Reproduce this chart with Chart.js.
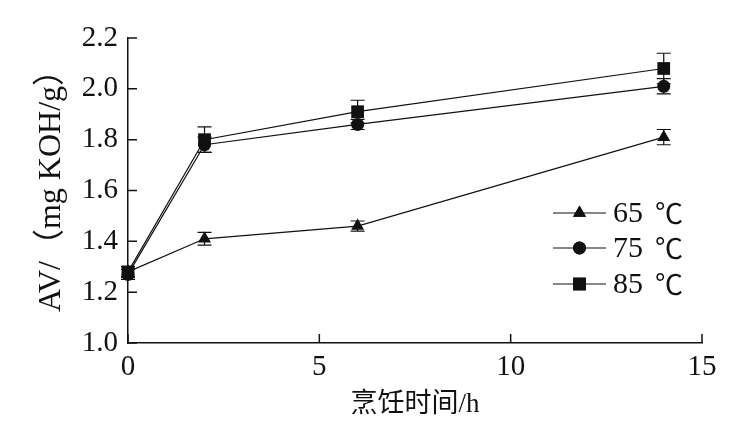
<!DOCTYPE html>
<html>
<head>
<meta charset="utf-8">
<script src="https://cdn.jsdelivr.net/npm/chart.js@4/dist/chart.umd.min.js"></script>
<style>
html,body{margin:0;padding:0;background:#fff;}
#wrap{width:735px;height:437px;}
</style>
</head>
<body>
<div id="wrap"><canvas id="c" width="735" height="437"></canvas></div>
<script>
const hours = [0, 2, 6, 14];
const av65 = [1.28, 1.41, 1.46, 1.81];
const err65 = [0.02, 0.025, 0.02, 0.03];
const av75 = [1.27, 1.78, 1.86, 2.01];
const err75 = [0.02, 0.03, 0.02, 0.03];
const av85 = [1.28, 1.80, 1.91, 2.08];
const err85 = [0.02, 0.05, 0.045, 0.06];
const seriesLabels = ['65 ℃', '75 ℃', '85 ℃'];
const xTicks = [0, 5, 10, 15];
const yTicks = [1.0, 1.2, 1.4, 1.6, 1.8, 2.0, 2.2];
const xTitle = '烹饪时间/h';
const yTitle = 'AV/（mg KOH/g）';

const SERIF = '"Liberation Serif", "DejaVu Serif", "Noto Sans CJK SC", serif';
const CJK = '"Noto Sans CJK SC", "Liberation Serif", serif';
const styles = [
  {pointStyle: 'triangle', pointRadius: 7.5},
  {pointStyle: 'circle', pointRadius: 6.5},
  {pointStyle: 'rect', pointRadius: 9}
];
const vals = [av65, av75, av85];
const errs = [err65, err75, err85];

const datasets = vals.map((v, i) => ({
  label: seriesLabels[i],
  data: hours.map((h, j) => ({x: h, y: v[j]})),
  errors: errs[i],
  borderColor: '#111',
  borderWidth: 1.2,
  backgroundColor: '#111',
  pointBackgroundColor: '#111',
  pointBorderColor: '#111',
  pointBorderWidth: 0,
  pointStyle: styles[i].pointStyle,
  pointRadius: styles[i].pointRadius,
  tension: 0,
  clip: false
}));

const errorBars = {
  id: 'errorBars',
  beforeDatasetsDraw(chart) {
    const ctx = chart.ctx;
    const xs = chart.scales.x, ys = chart.scales.y;
    ctx.save();
    ctx.strokeStyle = '#111';
    ctx.lineWidth = 1.2;
    chart.data.datasets.forEach(ds => {
      ds.data.forEach((p, j) => {
        const e = ds.errors[j];
        const px = xs.getPixelForValue(p.x);
        const top = ys.getPixelForValue(p.y + e);
        const bot = ys.getPixelForValue(p.y - e);
        ctx.beginPath();
        ctx.moveTo(px, top); ctx.lineTo(px, bot);
        ctx.moveTo(px - 7, top); ctx.lineTo(px + 7, top);
        ctx.moveTo(px - 7, bot); ctx.lineTo(px + 7, bot);
        ctx.stroke();
      });
    });
    ctx.restore();
  }
};

const decor = {
  id: 'decor',
  afterDraw(chart) {
    const ctx = chart.ctx;
    const xs = chart.scales.x, ys = chart.scales.y;
    const area = chart.chartArea;
    ctx.save();
    ctx.strokeStyle = '#111';
    ctx.lineWidth = 1.5;
    ctx.beginPath();
    yTicks.forEach(v => {
      const py = ys.getPixelForValue(v);
      ctx.moveTo(area.left, py); ctx.lineTo(area.left + 9, py);
    });
    xTicks.forEach(v => {
      const px = xs.getPixelForValue(v);
      ctx.moveTo(px, area.bottom); ctx.lineTo(px, area.bottom - 9);
    });
    ctx.stroke();

    // y title
    ctx.save();
    ctx.translate(52, 183);
    ctx.rotate(-Math.PI / 2);
    ctx.font = '32px ' + SERIF;
    ctx.fillStyle = '#111';
    ctx.textAlign = 'center';
    ctx.textBaseline = 'middle';
    ctx.fillText(yTitle, 0, 0);
    ctx.restore();

    // legend
    const lx0 = 553, lx1 = 606, tx = 613;
    const rows = [213, 248, 284];
    ctx.fillStyle = '#111';
    ctx.textBaseline = 'middle';
    ctx.textAlign = 'left';
    chart.data.datasets.forEach((ds, i) => {
      const y = rows[i];
      ctx.lineWidth = 1.2;
      ctx.beginPath();
      ctx.moveTo(lx0, y); ctx.lineTo(lx1, y);
      ctx.stroke();
      const cx = (lx0 + lx1) / 2;
      Chart.helpers.drawPoint(ctx, {pointStyle: ds.pointStyle, radius: ds.pointRadius, rotation: 0, borderWidth: 0}, cx, y);
      ctx.fillStyle = '#111';
      ctx.fill();
      const parts = ds.label.split(' ');
      ctx.font = '30px ' + SERIF;
      ctx.fillText(parts[0], tx, y + 1);
      ctx.font = '28px ' + CJK;
      ctx.fillText(parts[1], tx + 42, y);
    });
    ctx.restore();
  }
};

new Chart(document.getElementById('c'), {
  type: 'line',
  data: {datasets},
  plugins: [errorBars, decor],
  options: {
    responsive: false,
    animation: false,
    layout: {padding: {top: 38, right: 33, left: 0, bottom: 0}},
    plugins: {legend: {display: false}, tooltip: {enabled: false}},
    scales: {
      x: {
        type: 'linear',
        min: 0, max: 15,
        afterBuildTicks(s) { s.ticks = xTicks.map(v => ({value: v})); },
        afterFit(s) { s.height = 94; },
        grid: {display: false, drawTicks: false},
        border: {display: true, color: '#111', width: 1.5},
        ticks: {color: '#111', padding: 7, font: {family: SERIF, size: 29}, maxRotation: 0},
        title: {display: true, text: xTitle, color: '#111', font: {family: SERIF, size: 27}, padding: {top: 0, bottom: 16}}
      },
      y: {
        type: 'linear',
        min: 1.0, max: 2.2,
        afterBuildTicks(s) { s.ticks = yTicks.map(v => ({value: v})); },
        afterFit(s) { s.width = 128; },
        grid: {display: false, drawTicks: false},
        border: {display: true, color: '#111', width: 1.5},
        ticks: {color: '#111', padding: 10, font: {family: SERIF, size: 29}, callback: v => Number(v).toFixed(1)},
        title: {display: false}
      }
    }
  }
});
</script>
</body>
</html>
